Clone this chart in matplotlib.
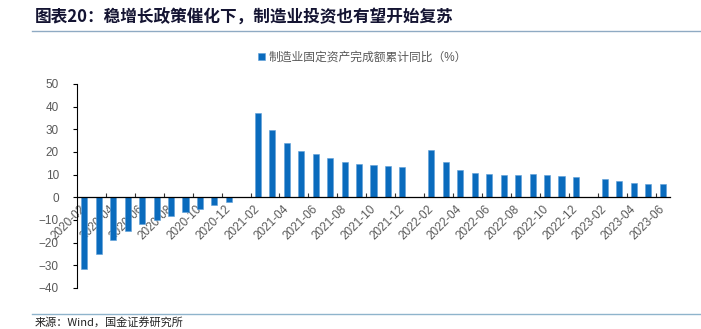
import matplotlib
matplotlib.use("Agg")
import matplotlib.pyplot as plt
from matplotlib.lines import Line2D
import numpy as np

plt.rcParams['font.family'] = ['Liberation Sans', 'Noto Sans CJK SC', 'DejaVu Sans']

months = (["2020-%02d" % m for m in range(2, 13)] +
          ["2021-%02d" % m for m in range(1, 13)] +
          ["2022-%02d" % m for m in range(1, 13)] +
          ["2023-%02d" % m for m in range(1, 7)])
values = ([-31.5, -25.2, -18.8, -14.8, -11.7, -10.2, -8.1, -6.5, -5.3, -3.5, -2.2] +
          [np.nan, 37.3, 29.8, 23.8, 20.4, 19.2, 17.3, 15.7, 14.8, 14.2, 13.7, 13.5] +
          [np.nan, 20.9, 15.6, 12.2, 10.6, 10.4, 9.9, 10.0, 10.1, 9.7, 9.3, 9.1] +
          [np.nan, 8.1, 7.0, 6.4, 6.0, 6.0])
series_name = "制造业固定资产完成额累计同比（%）"
title = "图表20：稳增长政策催化下，制造业投资也有望开始复苏"
source = "来源：Wind，国金证券研究所"

W, H = 701, 329
fig = plt.figure(figsize=(W / 100, H / 100), dpi=100)
ax = fig.add_axes([77 / W, 1 - 288 / H, (670 - 77) / W, (288 - 84) / H])

x = np.arange(len(months))
vals = np.array(values, dtype=float)
bars = ax.bar(x, np.nan_to_num(vals), width=0.42, color='#0A6BBD', edgecolor='#5FA0D8',
              linewidth=0.4, label=series_name, zorder=2)

ax.set_xlim(-0.5, len(months) - 0.5)
ax.set_ylim(-40, 50)
ax.set_yticks(np.arange(-40, 51, 10))
ax.tick_params(axis='y', direction='out', length=3, width=0.8, colors='black',
               labelcolor='#595959', labelsize=8.5, pad=10)

for s in ['top', 'right']:
    ax.spines[s].set_visible(False)
ax.spines['left'].set_color('black')
ax.spines['left'].set_linewidth(0.8)
ax.spines['bottom'].set_position(('data', 0))
ax.spines['bottom'].set_color('black')
ax.spines['bottom'].set_linewidth(0.9)

# category-boundary ticks every 2 categories
ax.set_xticks(np.arange(1.5, len(months), 2))
ax.set_xticklabels([])
ax.tick_params(axis='x', which='major', direction='in', length=3, width=0.8, colors='#333333')
# labels at category centres
ax.set_xticks(x[::2], minor=True)
ax.set_xticklabels(months[::2], minor=True, rotation=45, ha='right',
                   rotation_mode='anchor', va='center', fontsize=8.5, color='#595959')
ax.tick_params(axis='x', which='minor', length=0, pad=7)

# legend
ax.legend(handles=[bars], loc='center', bbox_to_anchor=(0.517, 0.826),
          bbox_transform=fig.transFigure, frameon=False, handlelength=0.55,
          handleheight=0.55, handletextpad=0.3, fontsize=8.5, labelcolor='#595959')

# title and lines
fig.text(35 / W, 1 - 18 / H, title, fontsize=12, fontweight='bold', style='italic',
         color='#141432', va='center', ha='left',
         family=['Noto Sans CJK SC', 'DejaVu Sans'])
fig.add_artist(Line2D([32 / W, 1.0], [1 - 31 / H, 1 - 31 / H], transform=fig.transFigure,
                      color='#8FAAC3', linewidth=1.0))
fig.add_artist(Line2D([32 / W, 700 / W], [1 - 314 / H, 1 - 314 / H], transform=fig.transFigure,
                      color='#8FB4CC', linewidth=1.0))
fig.text(35 / W, 1 - 317 / H, source, fontsize=8, color='#222222', va='top', ha='left',
         family=['Noto Sans CJK SC', 'DejaVu Sans'])

fig.savefig("out.png", dpi=100)
